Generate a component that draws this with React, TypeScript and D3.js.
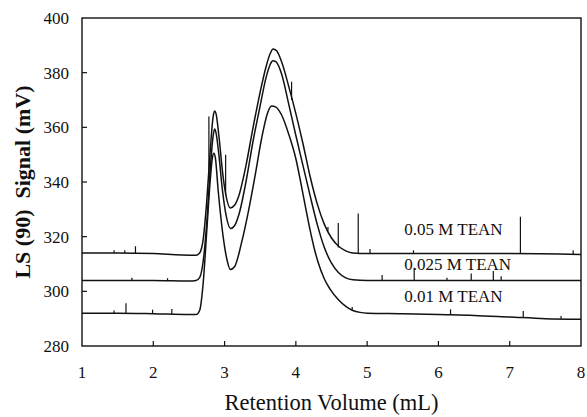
import React from 'react';
import * as d3 from 'd3';

const xTicks = [1, 2, 3, 4, 5, 6, 7, 8];
const yTicks = [280, 300, 320, 340, 360, 380, 400];

const seriesNames = ['0.05 M TEAN', '0.025 M TEAN', '0.01 M TEAN'];

const tean005: [number, number][] = [
  [1.0, 314], [1.5, 314], [2.0, 313.8], [2.4, 313.3], [2.6, 313.2], [2.65, 314],
  [2.7, 319], [2.75, 333], [2.8, 352], [2.84, 364], [2.86, 366], [2.88, 365],
  [2.92, 357], [2.97, 344], [3.02, 335], [3.08, 330.5], [3.14, 331.5], [3.2, 335],
  [3.3, 346], [3.4, 360], [3.5, 373], [3.58, 382], [3.64, 387], [3.68, 388.7],
  [3.73, 388], [3.8, 384], [3.9, 375], [4.0, 365], [4.1, 354], [4.2, 342],
  [4.3, 332], [4.4, 324.5], [4.5, 319.5], [4.6, 316.5], [4.7, 314.8], [4.8, 314],
  [5.0, 313.8], [6.0, 313.8], [7.0, 313.8], [8.0, 313.5],
];

const tean0025: [number, number][] = [
  [1.0, 304], [2.0, 304], [2.5, 303.8], [2.6, 304], [2.65, 305], [2.7, 311],
  [2.75, 325], [2.8, 345], [2.84, 357], [2.86, 359.4], [2.88, 358], [2.92, 350],
  [2.97, 337], [3.02, 328], [3.085, 323], [3.14, 324], [3.2, 328], [3.3, 340],
  [3.4, 355], [3.5, 368], [3.58, 378], [3.64, 383], [3.675, 384.4], [3.72, 384],
  [3.8, 379.5], [3.9, 368.5], [4.0, 357], [4.1, 346], [4.2, 335], [4.3, 324.5],
  [4.4, 316], [4.5, 310.3], [4.6, 306.8], [4.7, 304.9], [4.8, 304.2], [5.0, 304],
  [6.0, 304], [7.0, 304], [8.0, 304],
];

const tean001: [number, number][] = [
  [1.0, 292], [1.5, 292], [2.0, 291.8], [2.5, 291.5], [2.6, 291.5], [2.65, 293],
  [2.7, 303], [2.75, 322], [2.8, 341], [2.83, 349], [2.85, 350.5], [2.87, 349],
  [2.91, 337], [2.98, 320], [3.03, 312], [3.08, 308], [3.14, 309], [3.24, 318],
  [3.34, 330], [3.43, 342.6], [3.52, 356], [3.6, 365], [3.66, 367.8], [3.72, 367.4],
  [3.8, 364.5], [3.9, 357.5], [4.0, 348.5], [4.06, 341], [4.13, 331.5], [4.2, 322.4],
  [4.26, 315.5], [4.31, 310.8], [4.4, 304.5], [4.48, 300.8], [4.6, 296.8], [4.71, 294.3],
  [4.8, 293], [4.9, 292.3], [5.0, 292], [5.5, 291.8], [6.0, 291.5], [6.5, 291.2],
  [7.0, 290.6], [7.5, 290], [8.0, 289.8],
];

// [x, base, top]
const spikes005: [number, number, number][] = [
  [1.45, 314, 315], [1.6, 314, 315], [1.75, 314, 316.5], [2.78, 342, 364],
  [3.015, 335, 350], [3.94, 370, 376.7], [4.45, 322, 323.5], [4.595, 316, 325],
  [4.875, 314, 328.5], [5.04, 313.8, 315.5], [5.65, 313.8, 315], [7.15, 313.8, 327.3],
  [7.89, 313.6, 315],
];
const spikes0025: [number, number, number][] = [
  [1.7, 304, 305], [2.2, 304, 304.8], [5.21, 304, 306], [5.66, 304, 308.6],
  [6.12, 304, 305], [6.46, 304, 306.5], [6.77, 304, 307.4], [6.88, 304, 305.5],
];
const spikes001: [number, number, number][] = [
  [1.45, 292, 293], [1.617, 292, 295.6], [1.99, 291.8, 293.3], [2.26, 291.7, 293.5],
  [4.79, 293, 294.3], [6.17, 291.5, 293.4], [7.19, 290.6, 292.8], [7.72, 290, 291],
];

const labelPos: [number, number][] = [
  [5.52, 320.6], [5.52, 307.8], [5.52, 296.1],
];

const W = 587;
const H = 417;
const L = 82, R = 581, T = 18, B = 346;
const FONT = '"Liberation Serif", "Times New Roman", Times, serif';

export default function App() {
  const x = d3.scaleLinear().domain([1, 8]).range([L, R]);
  const y = d3.scaleLinear().domain([280, 400]).range([B, T]);
  const line = d3
    .line<[number, number]>()
    .x((d) => x(d[0]))
    .y((d) => y(d[1]))
    .curve(d3.curveMonotoneX);

  const allSeries = [tean005, tean0025, tean001];
  const allSpikes = [spikes005, spikes0025, spikes001];
  const ts = { fontFamily: FONT };

  return (
    <svg
      width={W}
      height={H}
      style={{ position: 'fixed', left: 0, top: 0, background: '#fff' }}
    >
      <rect x={0} y={0} width={W} height={H} fill="#fff" />
      <rect x={L} y={T} width={R - L} height={B - T} fill="none" stroke="#111" strokeWidth={1.4} />
      {xTicks.map((t) => (
        <g key={'xt' + t}>
          {t > 1 && t < 8 && (
            <line x1={x(t)} x2={x(t)} y1={B} y2={B - 5} stroke="#111" strokeWidth={1.2} />
          )}
          <text x={x(t)} y={378} textAnchor="middle" fontSize={17} fill="#111" style={ts}>
            {t}
          </text>
        </g>
      ))}
      {yTicks.map((t) => (
        <g key={'yt' + t}>
          {t > 280 && t < 400 && (
            <line x1={L} x2={L + 5} y1={y(t)} y2={y(t)} stroke="#111" strokeWidth={1.2} />
          )}
          <text x={69} y={y(t)} dy="0.35em" textAnchor="end" fontSize={17} fill="#111" style={ts}>
            {t}
          </text>
        </g>
      ))}
      {allSeries.map((s, i) => (
        <path key={'s' + i} d={line(s) || ''} fill="none" stroke="#111" strokeWidth={1.5} />
      ))}
      {allSpikes.map((sp, i) =>
        sp.map((d, j) => (
          <line
            key={'sp' + i + '-' + j}
            x1={x(d[0])}
            x2={x(d[0])}
            y1={y(d[1])}
            y2={y(d[2])}
            stroke="#111"
            strokeWidth={1.2}
          />
        ))
      )}
      {seriesNames.map((n, i) => (
        <text
          key={'lab' + i}
          x={x(labelPos[i][0])}
          y={y(labelPos[i][1])}
          fontSize={17}
          fill="#111"
          style={ts}
        >
          {n}
        </text>
      ))}
      <text x={(L + R) / 2} y={410} textAnchor="middle" fontSize={22.5} fill="#111" style={ts}>
        Retention Volume (mL)
      </text>
      <text
        transform={`translate(30, ${(T + B) / 2}) rotate(-90)`}
        textAnchor="middle"
        fontSize={22}
        fontWeight="bold"
        fill="#111"
        style={{ ...ts, whiteSpace: 'pre' }}
      >
        LS (90)  Signal (mV)
      </text>
    </svg>
  );
}
